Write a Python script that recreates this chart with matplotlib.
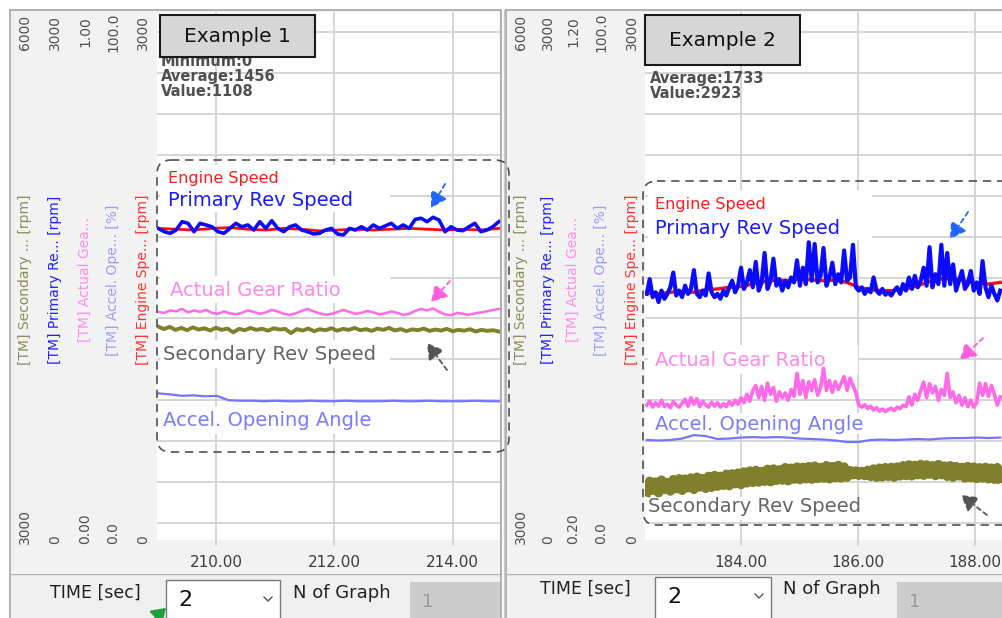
import numpy as np
import matplotlib.pyplot as plt
import matplotlib.transforms as mtransforms
from matplotlib.patches import Rectangle, FancyBboxPatch, FancyArrowPatch

W, H = 1002, 618

# ---------------- data ----------------
axis_names = ['[TM] Secondary ... [rpm]', '[TM] Primary Re... [rpm]', '[TM] Actual Gea...',
              '[TM] Accel. Ope... [%]', '[TM] Engine Spe... [rpm]']
p1_top = ['6000', '3000', '1.00', '100.0', '3000']
p1_bottom = ['3000', '0', '0.00', '0.0', '0']
p2_top = ['6000', '3000', '1.20', '100.0', '3000']
p2_bottom = ['3000', '0', '0.20', '0.0', '0']

# (low, high) of each stacked scale: secondary, primary, gear, accel, engine
p1_ranges = [(3000, 6000), (0, 3000), (0.0, 1.0), (0.0, 100.0), (0, 3000)]
p2_ranges = [(3000, 6000), (0, 3000), (0.2, 1.2), (0.0, 100.0), (0, 3000)]

p1_xticks = [210.0, 212.0, 214.0]
p2_xticks = [184.0, 186.0, 188.0]
p1_span = (209.02, 214.78)
p2_span = (182.39, 188.43)

p1_info = ['Minimum:0', 'Average:1456', 'Value:1108']
p2_info = ['Average:1733', 'Value:2923']

# Example 1 signals
p1_engine = [1800, 1795, 1790, 1800, 1805, 1795, 1790, 1800, 1795, 1785,
             1790, 1795, 1790, 1795, 1800, 1795, 1790, 1795, 1790, 1800]
p1_primary = [1800, 1780, 1770, 1790, 1841, 1831, 1780, 1831, 1821, 1810,
              1780, 1770, 1800, 1831, 1810, 1821, 1790, 1841, 1800, 1847,
              1800, 1780, 1810, 1821, 1790, 1780, 1766, 1770, 1790, 1800,
              1766, 1760, 1800, 1790, 1810, 1790, 1821, 1800, 1815, 1831,
              1800, 1821, 1800, 1855, 1862, 1841, 1868, 1851, 1780, 1810,
              1790, 1786, 1810, 1831, 1780, 1790, 1810, 1841]
p1_gear = [0.430, 0.428, 0.433, 0.431, 0.436, 0.429, 0.433, 0.430, 0.434, 0.428,
           0.426, 0.431, 0.427, 0.425, 0.428, 0.433, 0.430, 0.426, 0.429, 0.434,
           0.431, 0.426, 0.424, 0.427, 0.432, 0.436, 0.431, 0.427, 0.424, 0.426,
           0.430, 0.434, 0.430, 0.426, 0.428, 0.432, 0.429, 0.425, 0.427, 0.431,
           0.428, 0.424, 0.426, 0.432, 0.436, 0.433, 0.437, 0.430, 0.425, 0.423,
           0.428, 0.426, 0.424, 0.427, 0.429, 0.431, 0.434, 0.436]
p1_accel = [26.4, 26.2, 25.9, 26.0, 25.8, 25.9, 25.0, 24.9, 24.9, 24.8,
            24.9, 24.8, 24.8, 24.9, 24.8, 24.8, 24.9, 24.8, 24.8, 24.8,
            24.9, 24.8, 24.8, 24.9, 24.8, 24.8, 24.8, 24.9, 24.8, 24.8]
p1_secondary = [4200, 4185, 4198, 4180, 4192, 4178, 4195, 4182, 4190, 4176,
                4193, 4180, 4188, 4165, 4186, 4178, 4192, 4180, 4187, 4175,
                4190, 4182, 4186, 4160, 4185, 4176, 4188, 4172, 4184, 4178,
                4190, 4175, 4186, 4180, 4192, 4178, 4184, 4174, 4188, 4180,
                4192, 4176, 4185, 4172, 4183, 4178, 4188, 4174, 4182, 4176,
                4186, 4172, 4180, 4175, 4184, 4170, 4180, 4174, 4178, 4170]

# Example 2 signals
p2_engine = [1405, 1400, 1410, 1415, 1410, 1425, 1430, 1440, 1445, 1460,
             1475, 1485, 1480, 1490, 1485, 1480, 1485, 1470, 1440, 1425,
             1420, 1420, 1430, 1450, 1475, 1490, 1495, 1480, 1465, 1460, 1470]
p2_primary = [1400, 1490, 1380, 1410, 1350, 1420, 1370, 1400, 1440, 1530,
              1390, 1420, 1380, 1450, 1400, 1430, 1545, 1400, 1380, 1420,
              1390, 1525, 1410, 1380, 1400, 1370, 1420, 1390, 1440, 1480,
              1410, 1450, 1560, 1430, 1470, 1545, 1440, 1595, 1420, 1470,
              1650, 1430, 1480, 1615, 1450, 1490, 1420, 1480, 1440, 1500,
              1470, 1605, 1450, 1560, 1460, 1715, 1480, 1705, 1470, 1510,
              1680, 1450, 1500, 1590, 1460, 1520, 1470, 1665, 1480, 1500,
              1700, 1440, 1420, 1440, 1400, 1430, 1410, 1500, 1420, 1400,
              1430, 1395, 1410, 1390, 1420, 1440, 1400, 1460, 1420, 1500,
              1430, 1510, 1440, 1480, 1560, 1450, 1685, 1440, 1520, 1460,
              1700, 1450, 1650, 1460, 1580, 1420, 1480, 1540, 1430, 1460,
              1540, 1420, 1470, 1400, 1600, 1440, 1380, 1450, 1400, 1360, 1420]
p2_gear = [0.440, 0.448, 0.436, 0.445, 0.438, 0.450, 0.437, 0.442, 0.435, 0.447,
           0.440, 0.436, 0.444, 0.452, 0.438, 0.455, 0.442, 0.453, 0.437, 0.448,
           0.440, 0.436, 0.446, 0.438, 0.445, 0.436, 0.443, 0.437, 0.447, 0.440,
           0.450, 0.442, 0.455, 0.445, 0.462, 0.448, 0.470, 0.480, 0.455, 0.478,
           0.450, 0.485, 0.462, 0.476, 0.448, 0.467, 0.455, 0.465, 0.450, 0.472,
           0.458, 0.505, 0.462, 0.490, 0.455, 0.488, 0.470, 0.492, 0.460, 0.475,
           0.515, 0.470, 0.490, 0.466, 0.488, 0.472, 0.485, 0.498, 0.470, 0.495,
           0.480, 0.465, 0.440, 0.436, 0.441, 0.433, 0.438, 0.430, 0.435, 0.428,
           0.432, 0.427, 0.431, 0.434, 0.429, 0.436, 0.433, 0.440, 0.437, 0.457,
           0.440, 0.462, 0.450, 0.470, 0.487, 0.455, 0.484, 0.465, 0.478, 0.450,
           0.472, 0.460, 0.505, 0.455, 0.467, 0.445, 0.460, 0.440, 0.455, 0.437,
           0.450, 0.436, 0.445, 0.485, 0.460, 0.484, 0.458, 0.480, 0.462, 0.440, 0.457]
p2_accel = [16.9, 16.8, 16.9, 17.2, 17.9, 17.7, 17.1, 17.2, 17.4, 17.5,
            17.4, 17.5, 17.4, 17.2, 17.1, 17.0, 16.8, 16.5, 16.5, 16.9,
            17.0, 16.9, 17.0, 17.1, 17.0, 17.2, 17.3, 17.3, 17.4, 17.3, 17.4]
p2_secondary = [3190, 3255, 3200, 3250, 3185, 3262, 3205, 3248, 3195, 3265, 3210,
                3270, 3200, 3268, 3215, 3275, 3205, 3280, 3220, 3272, 3212, 3285, 3218,
                3290, 3225, 3285, 3230, 3298, 3228, 3300, 3240, 3305, 3235, 3312, 3245,
                3318, 3248, 3322, 3250, 3315, 3255, 3328, 3252, 3330, 3260, 3325,
                3262, 3338, 3258, 3335, 3268, 3342, 3265, 3340, 3270, 3345, 3268,
                3348, 3272, 3340, 3275, 3350, 3270, 3345, 3278, 3352, 3275, 3342, 3280,
                3320, 3295, 3318, 3292, 3315, 3290, 3322,
                3285, 3330, 3280, 3335, 3282, 3338, 3285, 3340, 3280, 3342, 3288,
                3350, 3290, 3355, 3288, 3352, 3295, 3358, 3292, 3355, 3298, 3350, 3290, 3357, 3295,
                3348, 3285, 3350, 3280, 3345, 3288, 3340, 3275, 3345, 3278,
                3342, 3272, 3338, 3275, 3340, 3270, 3335, 3268, 3338, 3272]

# ---------------- styles ----------------
name_colors = ['#8c8c5a', '#2222ff', '#ff8cf0', '#9c9cff', '#ff3333']
OLIVE, BLUE, PINK, ACCEL, RED = '#7f7f2c', '#0a0aff', '#ff6ae8', '#7474ff', '#ff0a0a'
GRID = '#d2d2d2'
PANEL_BG = '#f2f2f2'

fig = plt.figure(figsize=(W / 100, H / 100), dpi=100)
PX = mtransforms.Affine2D().scale(1 / W, -1 / H).translate(0, 1) + fig.transFigure


def frac(x0, y0, x1, y1):
    return [x0 / W, 1 - y1 / H, (x1 - x0) / W, (y1 - y0) / H]


def overlay(z):
    a = fig.add_axes([0, 0, 1, 1], zorder=z)
    a.set_xlim(0, W)
    a.set_ylim(H, 0)
    a.axis('off')
    return a


bg = overlay(0)
fg = overlay(20)


def box(ax, x0, y0, x1, y1, fc='none', ec='none', lw=1.0, z=1):
    ax.add_patch(Rectangle((x0, y0), x1 - x0, y1 - y0, facecolor=fc,
                           edgecolor=ec, lw=lw, zorder=z))


PPU = 491 / 12  # pixels per grid division


def panel(left, right, plot_left, xlim, xticks, span, tops, bottoms, cols, signals,
          white_boxes):
    # frame and grey areas
    box(bg, left, 10, right, 545, fc=PANEL_BG)
    box(bg, left, 540, right, 573, fc=PANEL_BG)
    box(bg, left, 574, right, 620, fc='#f0f0f0')
    bg.plot([left, right], [573.5, 573.5], color='#b4b4b4', lw=1, zorder=2)
    bg.plot([left - 0.5, left - 0.5], [9.5, 620], color='#a6a6a6', lw=1.2, zorder=2)
    bg.plot([left - 0.5, right], [9.5, 9.5], color='#a6a6a6', lw=1.2, zorder=2)

    main = fig.add_axes(frac(plot_left, 12, right, 540), zorder=2)
    main.set_facecolor('white')
    for s in main.spines.values():
        s.set_visible(False)
    main.set_xlim(*xlim)
    main.set_ylim(-17 / PPU, 12 + 20 / PPU)
    main.set_yticks(range(13))
    main.set_xticks(xticks)
    main.set_xticklabels([f'{t:.2f}' for t in xticks])
    main.tick_params(axis='y', length=0, labelleft=False)
    main.tick_params(axis='x', length=4, width=1.2, color=GRID, pad=6.5,
                     labelsize=11, labelcolor='#3c3c3c')
    main.grid(True, color=GRID, lw=1.3)
    main.set_axisbelow(True)
    for (x0, y0, x1, y1) in white_boxes:
        main.add_patch(Rectangle((x0, y0), x1 - x0, y1 - y0, facecolor='white',
                                 edgecolor='none', transform=PX, zorder=1))

    for i, (vals, (lo, hi), color, lw) in enumerate(signals):
        tw = main.twinx()
        tw.set_zorder(3 + i)
        s = (hi - lo) / 491
        tw.set_ylim(lo - 17 * s, hi + 20 * s)
        tw.axis('off')
        t = np.linspace(span[0], span[1], len(vals))
        tw.plot(t, vals, color=color, lw=lw, solid_joinstyle='round')

    # stacked scale labels
    for x, name, c, top, bot in zip(cols, axis_names, name_colors, tops, bottoms):
        bg.text(x, 280, name, rotation=90, ha='center', va='center', fontsize=10,
                color=c, zorder=3)
        bg.text(x, 32, top, rotation=90, ha='center', va='center', fontsize=10,
                color='#505050', zorder=3)
        bg.text(x, 544, bot, rotation=90, ha='center', va='bottom', fontsize=10,
                color='#505050', zorder=3)
    return main


# ---- Example 1 ----
p1_signals = [(p1_secondary, p1_ranges[0], OLIVE, 2.8),
              (p1_engine, p1_ranges[4], RED, 2.0),
              (p1_primary, p1_ranges[1], BLUE, 2.6),
              (p1_gear, p1_ranges[2], PINK, 1.8),
              (p1_accel, p1_ranges[3], ACCEL, 1.6)]
panel(11, 500, 157, (209.0, 214.8), p1_xticks, p1_span, p1_top, p1_bottom,
      [25, 55, 85, 113, 143], p1_signals,
      [(160, 165, 390, 212), (160, 276, 390, 303), (160, 340, 390, 368),
       (160, 406, 390, 434)])

# ---- Example 2 ----
p2_signals = [(p2_secondary, p2_ranges[0], OLIVE, 6.8),
              (p2_engine, p2_ranges[4], RED, 2.4),
              (p2_primary, p2_ranges[1], BLUE, 3.0),
              (p2_gear, p2_ranges[2], PINK, 2.6),
              (p2_accel, p2_ranges[3], ACCEL, 1.6)]
panel(507, 1002, 645, (182.36, 188.46), p2_xticks, p2_span, p2_top, p2_bottom,
      [521, 548, 573, 601, 632], p2_signals,
      [(648, 190, 872, 240), (648, 345, 858, 374), (648, 413, 870, 434),
       (648, 497, 872, 520)])

# panel separator
bg.plot([501, 501], [9.5, 620], color='#a0a0a0', lw=1.2, zorder=4)
bg.plot([504, 504], [9.5, 620], color='#c8c8c8', lw=1.0, zorder=4)

# ---- annotations ----
for (x, y, txt, fs, c) in [
        (168, 178, 'Engine Speed', 11.5, '#ff1a1a'),
        (168, 200, 'Primary Rev Speed', 14, '#1a1aff'),
        (170, 291, 'Actual Gear Ratio', 14, '#ff88ee'),
        (163, 354, 'Secondary Rev Speed', 14, '#646464'),
        (163, 420, 'Accel. Opening Angle', 14, '#7a7aff'),
        (655, 205, 'Engine Speed', 11.5, '#ff1a1a'),
        (655, 228, 'Primary Rev Speed', 14, '#1a1aff'),
        (655, 360, 'Actual Gear Ratio', 14, '#ff88ee'),
        (655, 424, 'Accel. Opening Angle', 14, '#7a7aff'),
        (648, 507, 'Secondary Rev Speed', 14, '#646464')]:
    fg.text(x, y, txt, fontsize=fs, color=c, ha='left', va='center', zorder=3)

for (x0, y0, x1, y1) in [(157, 160, 509, 452), (643, 181, 1020, 525)]:
    fg.add_patch(FancyBboxPatch((x0, y0), x1 - x0, y1 - y0,
                                boxstyle='round,pad=0,rounding_size=14',
                                fill=False, ec='#505050', lw=1.2,
                                linestyle=(0, (5, 3.5)), zorder=2))

for (tail, head, c) in [((445, 184), (431, 208), '#2066ff'),
                        ((450, 281), (431, 302), '#ff5ee0'),
                        ((447, 370), (427, 343), '#555555'),
                        ((968, 212), (950, 239), '#2066ff'),
                        ((983, 338), (960, 360), '#ff5ee0'),
                        ((987, 515), (961, 495), '#555555')]:
    fg.add_patch(FancyArrowPatch(tail, head, arrowstyle='-|>,head_length=0.6,head_width=0.35',
                                 mutation_scale=16, color=c, lw=1.3, shrinkA=0, shrinkB=0,
                                 linestyle=(0, (2.5, 2)), zorder=4))

# info text and example tags
for y, t in zip([61, 77, 91], p1_info):
    fg.text(161, y, t, fontsize=10.5, fontweight='bold', color='#505050',
            ha='left', va='center', zorder=3)
for y, t in zip([79, 93], p2_info):
    fg.text(650, y, t, fontsize=10.5, fontweight='bold', color='#505050',
            ha='left', va='center', zorder=3)
box(fg, 160, 15, 315, 57, fc='#d6d6d6', ec='#1a1a1a', lw=1.5, z=5)
fg.text(237, 36, 'Example 1', fontsize=14.5, color='#111111', ha='center', va='center', zorder=6)
box(fg, 645, 15, 800, 65, fc='#d6d6d6', ec='#1a1a1a', lw=1.5, z=5)
fg.text(722, 40, 'Example 2', fontsize=14.5, color='#111111', ha='center', va='center', zorder=6)

# ---- bottom tool bars ----
for (tx, cx0, cx1, cy0, nx, gx0, gx1, gy0, ty) in [
        (50, 166, 280, 580, 293, 410, 500, 582, 593),
        (540, 655, 771, 577, 783, 897, 1002, 582, 589)]:
    bg.text(tx, ty, 'TIME [sec]', fontsize=12.5, color='#222222', ha='left', va='center', zorder=5)
    box(bg, cx0, cy0, cx1, 625, fc='white', ec='#7a7a7a', lw=1.0, z=5)
    bg.text(cx0 + 12, cy0 + 20, '2', fontsize=16, color='#111111', ha='left', va='center', zorder=6)
    bg.plot([cx1 - 16, cx1 - 12, cx1 - 8], [cy0 + 17, cy0 + 21, cy0 + 17], color='#555555',
            lw=1.0, zorder=6)
    bg.text(nx, ty, 'N of Graph', fontsize=13, color='#222222', ha='left', va='center', zorder=5)
    box(bg, gx0, gy0, gx1, 625, fc='#cccccc', z=5)
    bg.text(gx0 + 12, gy0 + 20, '1', fontsize=13, color='#9a9a9a', ha='left', va='center', zorder=6)

fg.add_patch(FancyArrowPatch((151, 622), (168, 606), arrowstyle='-|>,head_length=0.6,head_width=0.4',
                             mutation_scale=14, color='#1ea040', lw=1.5, zorder=6))

fig.savefig('out.png', dpi=100)
